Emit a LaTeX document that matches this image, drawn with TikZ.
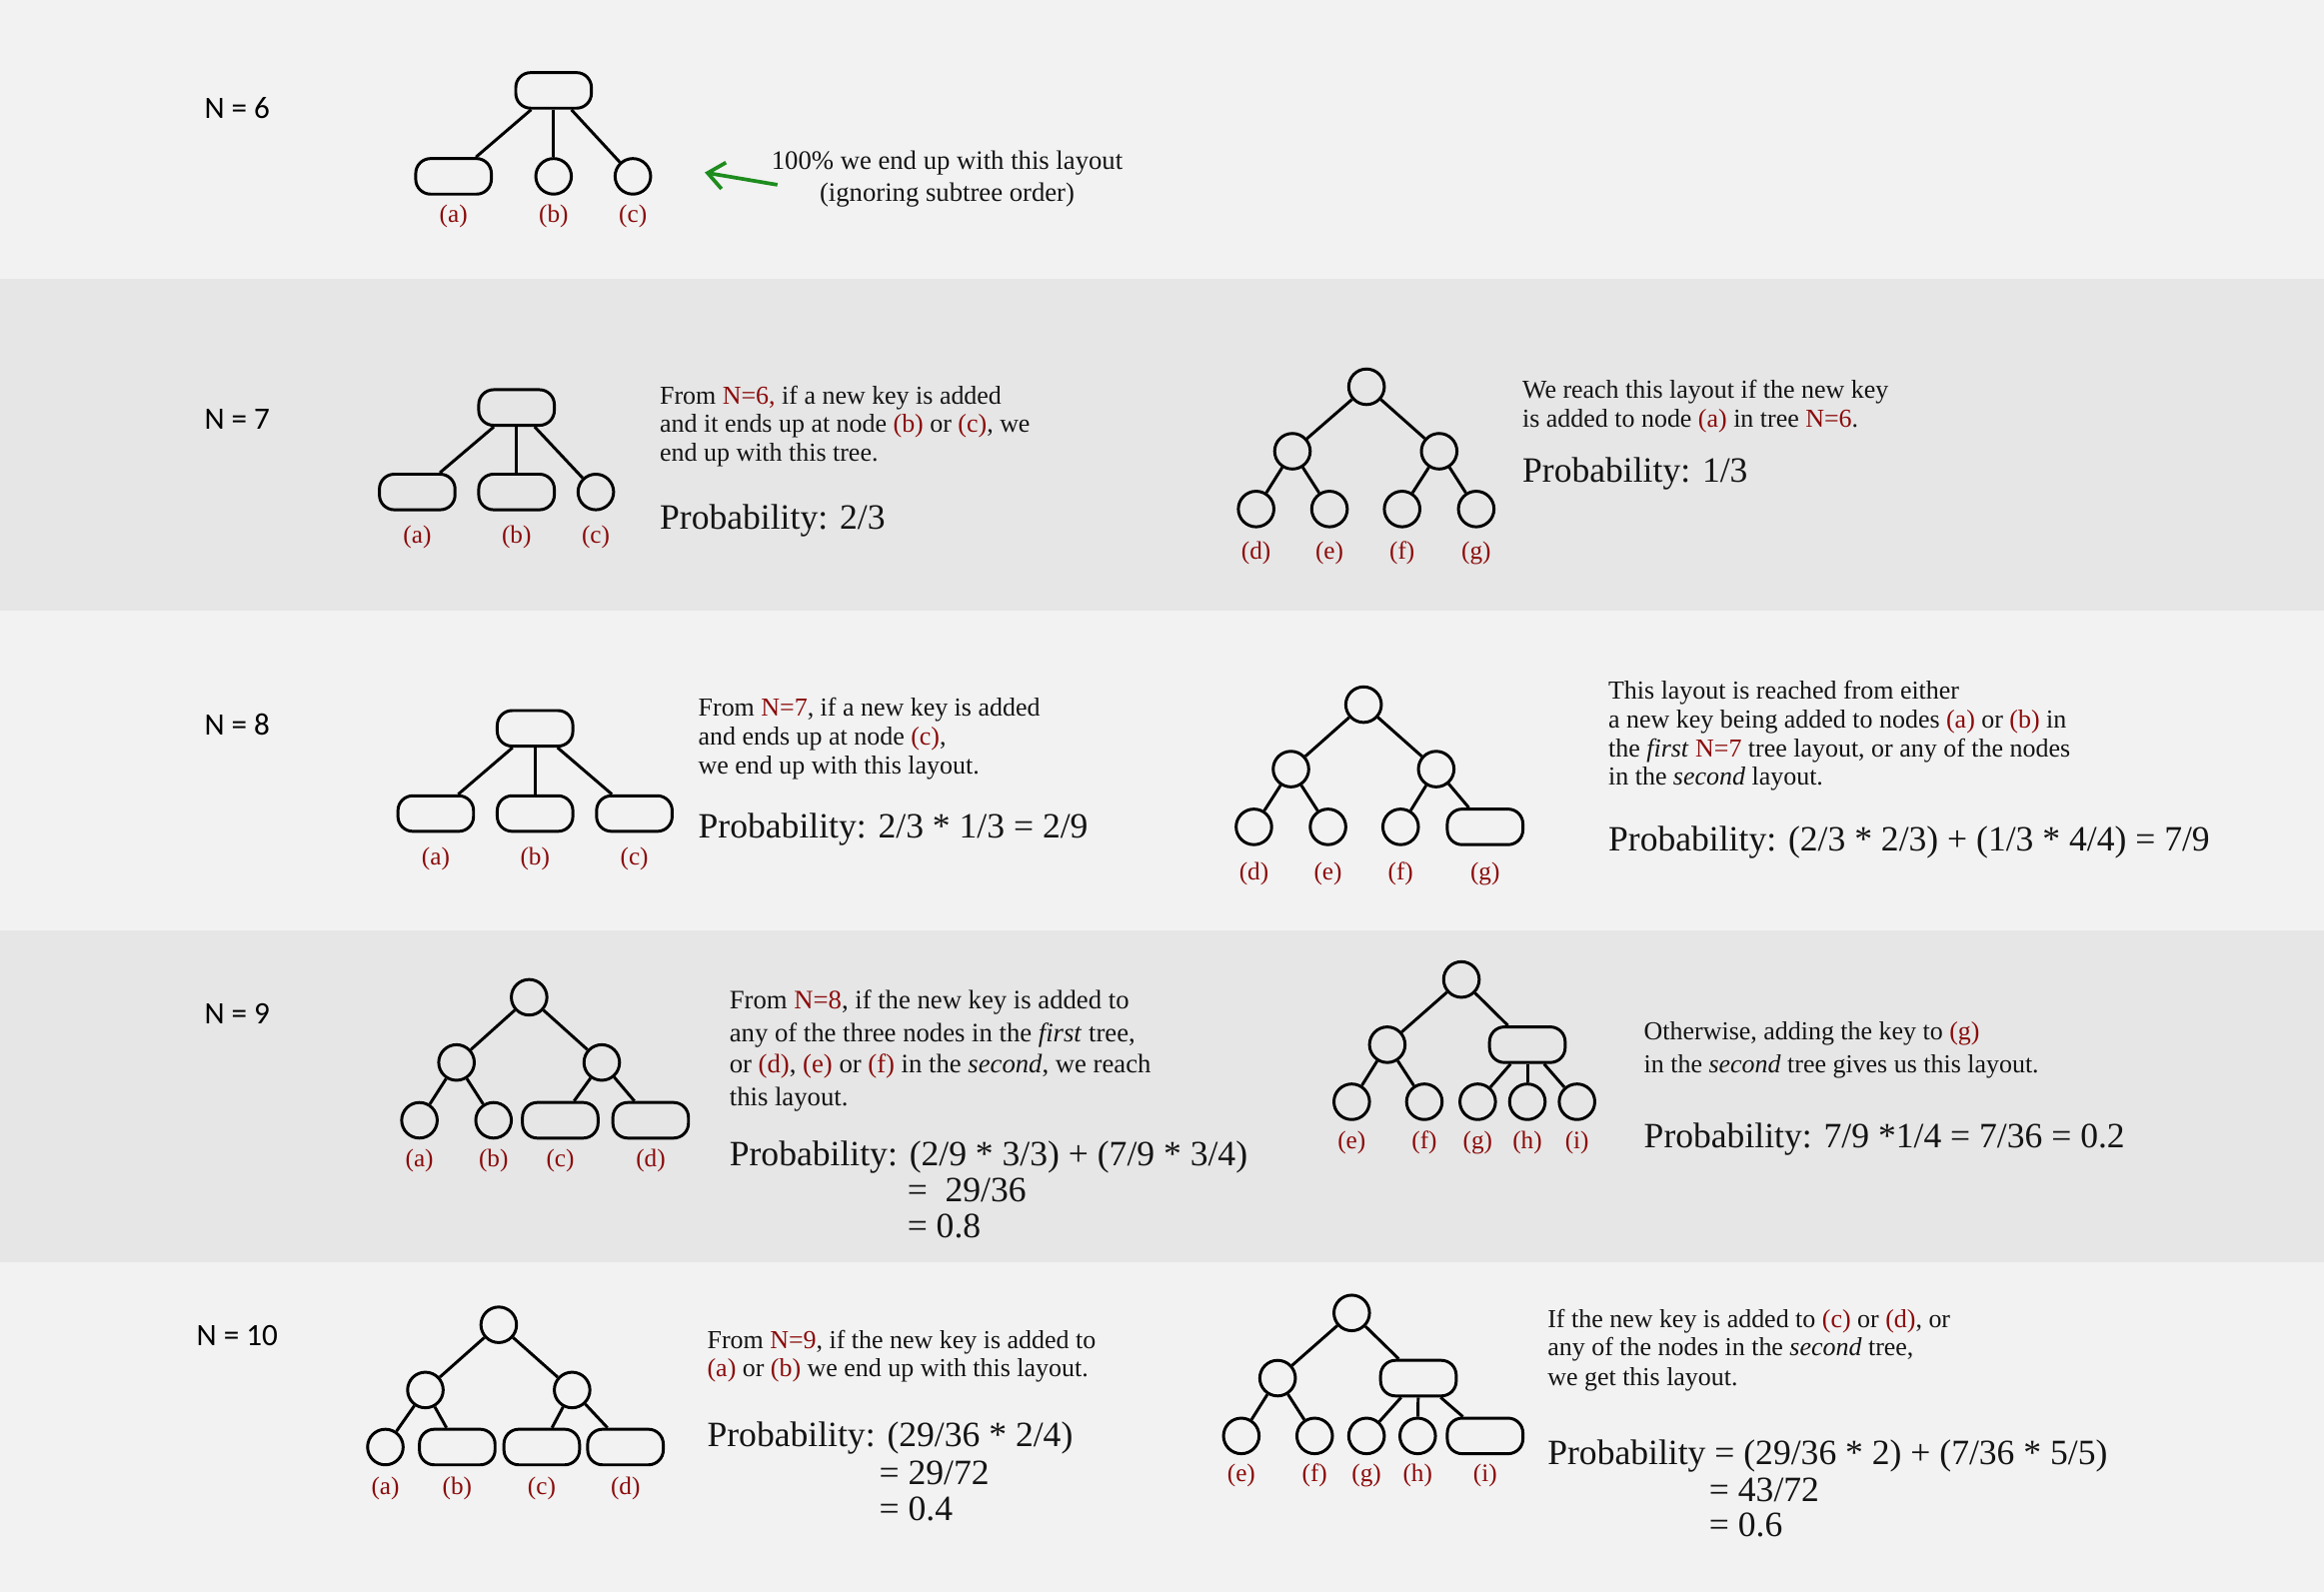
\documentclass[tikz,border=0pt]{standalone}
\usepackage{fontspec}
\setmainfont{Liberation Serif}
\newfontfamily\nfont{Carlito}
\usetikzlibrary{arrows.meta}
\definecolor{bgA}{HTML}{F2F2F2}
\definecolor{bgB}{HTML}{E6E6E6}
\definecolor{dred}{HTML}{8B0A0A}
\definecolor{tcol}{HTML}{141414}
\definecolor{garr}{HTML}{1E8C1E}
\newcommand\setfs[1]{\fontsize{#1pt}{#1pt}\selectfont}
\newcommand\rd[1]{\textcolor{dred}{#1}}
\tikzset{
  circ/.style={circle, draw=black, line width=2pt, minimum size=24pt, inner sep=0pt},
  rbox/.style={rectangle, rounded corners=10pt, draw=black, line width=2pt, minimum width=51pt, minimum height=24pt, inner sep=0pt},
  edge/.style={line width=2pt, draw=black},
  txt/.style={anchor=base west, inner sep=0pt, font=\setfs{17.5}, text=tcol},
  txtb/.style={anchor=base west, inner sep=0pt, font=\setfs{18}, text=tcol},
  prob/.style={anchor=base west, inner sep=0pt, font=\setfs{24}, text=tcol},
  lbl/.style={anchor=base, inner sep=0pt, font=\setfs{17}, text=dred},
  nlab/.style={inner sep=0pt, font=\nfont\setfs{21}, text=black},
  garrow/.style={draw=garr, line width=2.5pt, -{Straight Barb[length=11pt,width=18pt]}}
}
\begin{document}
\begin{tikzpicture}[x=1pt,y=-1pt]
\useasboundingbox (0,0) rectangle (1568,1074);
% bands
\fill[bgA] (0,0) rectangle (1568,188);
\fill[bgB] (0,188) rectangle (1568,412);
\fill[bgA] (0,412) rectangle (1568,628);
\fill[bgB] (0,628) rectangle (1568,852);
\fill[bgA] (0,852) rectangle (1568,1074);

% ---------------- N = 6
\node[nlab] (n6) at (160,73) {N = 6};
\node[rbox] (r6) at (373.5,61) {};
\node[rbox] (a6) at (306,119) {};
\node[circ] (b6) at (373.5,119) {};
\node[circ] (c6) at (427,119) {};
\draw[edge] (r6) -- (a6);
\draw[edge] (r6) -- (b6);
\draw[edge] (r6) -- (c6);
\node[lbl] (la6) at (306,150) {(a)};
\node[lbl] (lb6) at (373.5,150) {(b)};
\node[lbl] (lc6) at (427,150) {(c)};
\node[txtb, anchor=base] (t6a) at (639,114) {100\% we end up with this layout};
\node[txtb, anchor=base] (t6b) at (639,136) {(ignoring subtree order)};
\coordinate (arS) at (524.5,124.7);
\coordinate (arE) at (475.5,116.4);
\draw[garrow] (arS) -- (arE);

% ---------------- N = 7
\node[nlab] (n7) at (160,283) {N = 7};
\node[rbox] (r7) at (348.5,275) {};
\node[rbox] (a7) at (281.5,332) {};
\node[rbox] (b7) at (348.5,332) {};
\node[circ] (c7) at (402,332) {};
\draw[edge] (r7) -- (a7);
\draw[edge] (r7) -- (b7);
\draw[edge] (r7) -- (c7);
\node[lbl] (la7) at (281.5,366.5) {(a)};
\node[lbl] (lb7) at (348.5,366.5) {(b)};
\node[lbl] (lc7) at (402,366.5) {(c)};
\node[txt] (t7a) at (445,273) {From \rd{N=6,} if a new key is added};
\node[txt] (t7b) at (445,292) {and it ends up at node \rd{(b)} or \rd{(c)}, we};
\node[txt] (t7c) at (445,311.5) {end up with this tree.};
\node[prob] (p7) at (445,357) {Probability: 2/3};

\node[circ] (s7r) at (922,261) {};
\node[circ] (s7l) at (872,304.5) {};
\node[circ] (s7m) at (971,304.5) {};
\node[circ] (s7d) at (847.5,343.5) {};
\node[circ] (s7e) at (897,343.5) {};
\node[circ] (s7f) at (946,343.5) {};
\node[circ] (s7g) at (996,343.5) {};
\draw[edge] (s7r) -- (s7l);
\draw[edge] (s7r) -- (s7m);
\draw[edge] (s7l) -- (s7d);
\draw[edge] (s7l) -- (s7e);
\draw[edge] (s7m) -- (s7f);
\draw[edge] (s7m) -- (s7g);
\node[lbl] (ld7) at (847.5,377.5) {(d)};
\node[lbl] (le7) at (897,377.5) {(e)};
\node[lbl] (lf7) at (946,377.5) {(f)};
\node[lbl] (lg7) at (996,377.5) {(g)};
\node[txt] (u7a) at (1027,269) {We reach this layout if the new key};
\node[txt] (u7b) at (1027,288) {is added to node \rd{(a)} in tree \rd{N=6}.};
\node[prob] (q7) at (1027,325.5) {Probability: 1/3};

% ---------------- N = 8
\node[nlab] (n8) at (160,489) {N = 8};
\node[rbox] (r8) at (361,491.5) {};
\node[rbox] (a8) at (294,549) {};
\node[rbox] (b8) at (361,549) {};
\node[rbox] (c8) at (428,549) {};
\draw[edge] (r8) -- (a8);
\draw[edge] (r8) -- (b8);
\draw[edge] (r8) -- (c8);
\node[lbl] (la8) at (294,583.5) {(a)};
\node[lbl] (lb8) at (361,583.5) {(b)};
\node[lbl] (lc8) at (428,583.5) {(c)};
\node[txt] (t8a) at (471,483) {From \rd{N=7}, if a new key is added};
\node[txt] (t8b) at (471,503) {and ends up at node \rd{(c)},};
\node[txt] (t8c) at (471,522) {we end up with this layout.};
\node[prob] (p8) at (471,565.5) {Probability: 2/3 * 1/3 = 2/9};

\node[circ] (s8r) at (920,475.5) {};
\node[circ] (s8l) at (871,519) {};
\node[circ] (s8m) at (969,519) {};
\node[circ] (s8d) at (846,558) {};
\node[circ] (s8e) at (896,558) {};
\node[circ] (s8f) at (945,558) {};
\node[rbox] (s8g) at (1002,558) {};
\draw[edge] (s8r) -- (s8l);
\draw[edge] (s8r) -- (s8m);
\draw[edge] (s8l) -- (s8d);
\draw[edge] (s8l) -- (s8e);
\draw[edge] (s8m) -- (s8f);
\draw[edge] (s8m) -- (s8g);
\node[lbl] (ld8) at (846,593.5) {(d)};
\node[lbl] (le8) at (896,593.5) {(e)};
\node[lbl] (lf8) at (945,593.5) {(f)};
\node[lbl] (lg8) at (1002,593.5) {(g)};
\node[txt] (u8a) at (1085,472) {This layout is reached from either};
\node[txt] (u8b) at (1085,491.5) {a new key being added to nodes \rd{(a)} or \rd{(b)} in};
\node[txt] (u8c) at (1085,511) {the \textit{first} \rd{N=7} tree layout, or any of the nodes};
\node[txt] (u8d) at (1085,530) {in the \textit{second} layout.};
\node[prob] (q8) at (1085,574.5) {Probability: (2/3 * 2/3) + (1/3 * 4/4) = 7/9};

% ---------------- N = 9
\node[nlab] (n9) at (160,684) {N = 9};
\node[circ] (r9) at (357,673) {};
\node[circ] (l9) at (308,717) {};
\node[circ] (m9) at (406,717) {};
\node[circ] (a9) at (283,756) {};
\node[circ] (b9) at (333,756) {};
\node[rbox] (c9) at (378,756) {};
\node[rbox] (d9) at (439,756) {};
\draw[edge] (r9) -- (l9);
\draw[edge] (r9) -- (m9);
\draw[edge] (l9) -- (a9);
\draw[edge] (l9) -- (b9);
\draw[edge] (m9) -- (c9);
\draw[edge] (m9) -- (d9);
\node[lbl] (la9) at (283,787.5) {(a)};
\node[lbl] (lb9) at (333,787.5) {(b)};
\node[lbl] (lc9) at (378,787.5) {(c)};
\node[lbl] (ld9) at (439,787.5) {(d)};
\node[txtb] (t9a) at (492,681) {From \rd{N=8}, if the new key is added to};
\node[txtb] (t9b) at (492,703) {any of the three nodes in the \textit{first} tree,};
\node[txtb] (t9c) at (492,724) {or \rd{(d)}, \rd{(e)} or \rd{(f)} in the \textit{second}, we reach};
\node[txtb] (t9d) at (492,746) {this layout.};
\node[prob] (p9) at (492,786.5) {Probability: (2/9 * 3/3) + (7/9 * 3/4)};
\node[prob] (p9b) at (612,811) {=\ \ 29/36};
\node[prob] (p9c) at (612,835) {= 0.8};

\node[circ] (s9r) at (986,661) {};
\node[circ] (s9l) at (936,705) {};
\node[rbox] (s9m) at (1030.5,705) {};
\node[circ] (s9e) at (912,743.5) {};
\node[circ] (s9f) at (961,743.5) {};
\node[circ] (s9g) at (997,743.5) {};
\node[circ] (s9h) at (1030.5,743.5) {};
\node[circ] (s9i) at (1064,743.5) {};
\draw[edge] (s9r) -- (s9l);
\draw[edge] (s9r) -- (s9m);
\draw[edge] (s9l) -- (s9e);
\draw[edge] (s9l) -- (s9f);
\draw[edge] (s9m) -- (s9g);
\draw[edge] (s9m) -- (s9h);
\draw[edge] (s9m) -- (s9i);
\node[lbl] (le9) at (912,775.5) {(e)};
\node[lbl] (lf9) at (961,775.5) {(f)};
\node[lbl] (lg9) at (997,775.5) {(g)};
\node[lbl] (lh9) at (1030.5,775.5) {(h)};
\node[lbl] (li9) at (1064,775.5) {(i)};
\node[txt] (u9a) at (1109,702) {Otherwise, adding the key to \rd{(g)}};
\node[txt] (u9b) at (1109,724) {in the \textit{second} tree gives us this layout.};
\node[prob] (q9) at (1109,774.5) {Probability: 7/9 *1/4 = 7/36 = 0.2};

% ---------------- N = 10
\node[nlab] (n10) at (160,901) {N = 10};
\node[circ] (r10) at (336.5,894) {};
\node[circ] (l10) at (287,938) {};
\node[circ] (m10) at (386,938) {};
\node[circ] (a10) at (260,976.5) {};
\node[rbox] (b10) at (308.5,976.5) {};
\node[rbox] (c10) at (365.5,976.5) {};
\node[rbox] (d10) at (422,976.5) {};
\draw[edge] (r10) -- (l10);
\draw[edge] (r10) -- (m10);
\draw[edge] (l10) -- (a10);
\draw[edge] (l10) -- (b10);
\draw[edge] (m10) -- (c10);
\draw[edge] (m10) -- (d10);
\node[lbl] (la10) at (260,1008.5) {(a)};
\node[lbl] (lb10) at (308.5,1008.5) {(b)};
\node[lbl] (lc10) at (365.5,1008.5) {(c)};
\node[lbl] (ld10) at (422,1008.5) {(d)};
\node[txt] (t10a) at (477,910) {From \rd{N=9}, if the new key is added to};
\node[txt] (t10b) at (477,929) {\rd{(a)} or \rd{(b)} we end up with this layout.};
\node[prob] (p10) at (477,976) {Probability: (29/36 * 2/4)};
\node[prob] (p10b) at (593,1001.5) {= 29/72};
\node[prob] (p10c) at (593,1026) {= 0.4};

\node[circ] (s10r) at (912,886) {};
\node[circ] (s10l) at (862,930) {};
\node[rbox] (s10m) at (957,930) {};
\node[circ] (s10e) at (837.5,969) {};
\node[circ] (s10f) at (887,969) {};
\node[circ] (s10g) at (922,969) {};
\node[circ] (s10h) at (956.5,969) {};
\node[rbox] (s10i) at (1002,969) {};
\draw[edge] (s10r) -- (s10l);
\draw[edge] (s10r) -- (s10m);
\draw[edge] (s10l) -- (s10e);
\draw[edge] (s10l) -- (s10f);
\draw[edge] (s10m) -- (s10g);
\draw[edge] (s10m) -- (s10h);
\draw[edge] (s10m) -- (s10i);
\node[lbl] (le10) at (837.5,999.5) {(e)};
\node[lbl] (lf10) at (887,999.5) {(f)};
\node[lbl] (lg10) at (922,999.5) {(g)};
\node[lbl] (lh10) at (956.5,999.5) {(h)};
\node[lbl] (li10) at (1002,999.5) {(i)};
\node[txt] (u10a) at (1044,896) {If the new key is added to \rd{(c)} or \rd{(d)}, or};
\node[txt] (u10b) at (1044,915) {any of the nodes in the \textit{second} tree,};
\node[txt] (u10c) at (1044,935) {we get this layout.};
\node[prob] (q10) at (1044,988.5) {Probability = (29/36 * 2) + (7/36 * 5/5)};
\node[prob] (q10b) at (1153,1013.5) {= 43/72};
\node[prob] (q10c) at (1153,1037) {= 0.6};
\end{tikzpicture}
\end{document}
